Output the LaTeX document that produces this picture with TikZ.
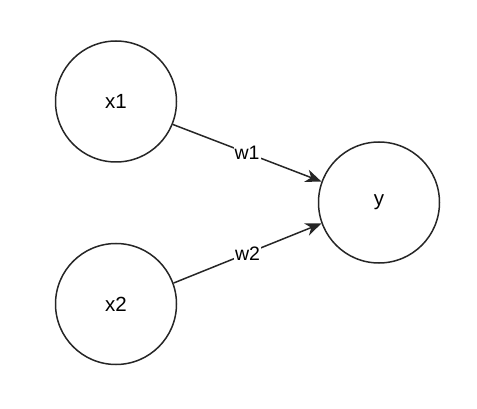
\documentclass[tikz,border=0pt]{standalone}
\usepackage{fontspec}
\setmainfont{Liberation Sans}
\usetikzlibrary{arrows.meta}
\begin{document}
\begin{tikzpicture}[x=1pt,y=-1pt,
  neuron/.style={circle,draw=black!85,line width=1.5pt,minimum size=121pt,inner sep=0pt,font=\fontsize{20.5}{24}\selectfont},
  conn/.style={draw=black!85,line width=1.5pt,-{Stealth[length=16pt,width=13pt,inset=5pt]}},
  wlabel/.style={fill=white,inner sep=1pt,font=\fontsize{19.5}{23}\selectfont}]
\useasboundingbox (0,0) rectangle (477,409);
\node[neuron] (x1) at (116,101.5) {x1};
\node[neuron] (x2) at (116,304) {x2};
\node[neuron] (y) at (379,202.5) {y};
\draw[conn] (x1.-22) -- node[wlabel,pos=0.5] {w1} (y.160);
\draw[conn] (x2.20) -- node[wlabel,pos=0.5] {w2} (y.200);
\end{tikzpicture}
\end{document}
